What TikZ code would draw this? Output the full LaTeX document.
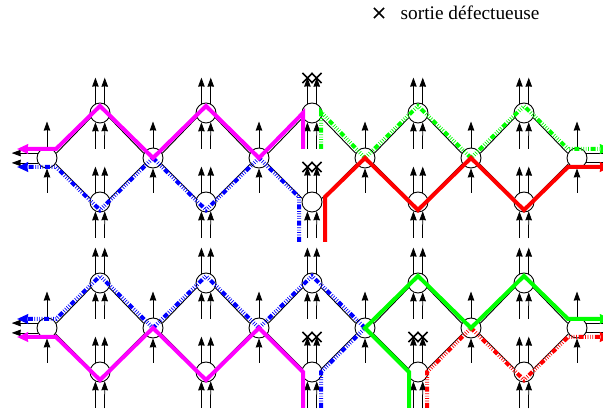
\documentclass[tikz,border=0pt]{standalone}
\usepackage{fontspec}
\setmainfont{Liberation Serif}
\usetikzlibrary{arrows.meta,shapes.misc}
\tikzset{
  x=1pt,y=-1pt,
  sw/.style={circle,draw=black,line width=0.9pt,fill=white,minimum size=20pt,inner sep=0pt},
  lien/.style={draw=black,line width=0.9pt},
  arr/.style={line width=0.75pt,-{Stealth[length=9pt,width=6.5pt,inset=0.4pt]}},
  croix/.style={cross out,draw=black,line width=1.7pt,minimum size=8.5pt,inner sep=0pt},
  plein/.style={line width=4pt,line join=miter,-{Stealth[length=11pt,width=9.5pt,inset=0.6pt]}},
  pointille/.style={plein,line width=4pt,dash pattern=on 5pt off 1.7pt on .7pt off 1.7pt on .7pt off 1.7pt on .7pt off 1.7pt on .7pt off 1.7pt}
}
\definecolor{mag}{RGB}{255,0,255}
\definecolor{bleu}{RGB}{0,0,255}
\definecolor{vert}{RGB}{0,255,0}
\definecolor{rouge}{RGB}{255,0,0}
\begin{document}
\begin{tikzpicture}
\path[use as bounding box] (0,0) rectangle (603,411);
\clip (0,0) rectangle (603,411);

% commutateurs
\foreach \b/\dy in {1/0,2/170}{
  \foreach \i/\x in {1/100,2/206,3/312,4/418,5/524}{
    \node[sw] (up\b-\i) at (\x,113+\dy) {};
    \node[sw] (low\b-\i) at (\x,202+\dy) {};
  }
  \foreach \i/\x in {0/47,1/153,2/259,3/365,4/471,5/577}{
    \node[sw] (mid\b-\i) at (\x,158+\dy) {};
  }
}

% liens et fleches
\foreach \b in {1,2}{
  \foreach \i/\l/\r in {1/0/1,2/1/2,3/2/3,4/3/4,5/4/5}{
    \draw[lien] (mid\b-\l.27) -- (up\b-\i.207);
    \draw[lien] (up\b-\i.-27) -- (mid\b-\r.153);
    \draw[lien] (mid\b-\l.-34) -- (low\b-\i.160);
    \draw[lien] (low\b-\i.20) -- (mid\b-\r.-146);
  }
  \foreach \i in {1,...,5}{
    \foreach \n in {up\b-\i,low\b-\i}{
      \draw[arr] (\n.116.7) -- ++(0,-26);
      \draw[arr] (\n.63.3) -- ++(0,-26);
      \coordinate (ea) at ([shift={(-4.5,36)}]\n.center);
      \coordinate (eb) at ([shift={(4.5,36)}]\n.center);
      \draw[arr] (ea) -- (\n.-116.7);
      \draw[arr] (eb) -- (\n.-63.3);
    }
  }
  \foreach \i in {0,...,5}{
    \draw[arr] (mid\b-\i.90) -- ++(0,-26);
    \coordinate (ec) at ([shift={(0,35)}]mid\b-\i.center);
    \draw[arr] (ec) -- (mid\b-\i.-90);
  }
  \draw[arr] (mid\b-0.152) -- ++(-26,0);
  \draw[arr] (mid\b-0.-152) -- ++(-26,0);
  \draw[line width=0.9pt] (mid\b-5.28) -- ++(20,0);
  \draw[line width=0.9pt] (mid\b-5.-28) -- ++(20,0);
}

% sorties defectueuses
\foreach \n in {up1-3,low1-3,low2-3,low2-4}{
  \node[croix] at ([shift={(-4.5,-35)}]\n.center) {};
  \node[croix] at ([shift={(4.5,-35)}]\n.center) {};
}

% extremites libres
\coordinate (magA) at (17,149);
\coordinate (bleuA) at (17,167);
\coordinate (bleuB) at (299,242);
\coordinate (rougeB) at (325,242);
\coordinate (vertA) at (611,149);
\coordinate (rougeA) at (611,167);
\coordinate (bleuC) at (17,319);
\coordinate (magC) at (17,337);
\coordinate (magD) at (303,408);
\coordinate (bleuD) at (321,408);
\coordinate (vertD) at (409,408);
\coordinate (rougeD) at (427,408);
\coordinate (vertC) at (611,319);
\coordinate (rougeC) at (611,337);

% chemins en pointilles
\draw[pointille,bleu] (bleuB) -- ([shift={(-13,-5)}]low1-3.center) -- (mid1-2.center) -- ([yshift=-8pt]low1-2.center) -- (mid1-1.center) -- ([yshift=-8pt]low1-1.center) -- ([shift={(9,9)}]mid1-0.center) -- (bleuA);
\draw[pointille,vert] ([shift={(9,36)}]up1-3.center) -- ([shift={(9,-1)}]up1-3.center) -- (mid1-3.center) -- ([yshift=7pt]up1-4.center) -- (mid1-4.center) -- ([yshift=7pt]up1-5.center) -- ([shift={(-9,-9)}]mid1-5.center) -- (vertA);
\draw[pointille,bleu] (bleuD) -- ([xshift=9pt]low2-3.center) -- (mid2-3.center) -- ([yshift=7pt]up2-3.center) -- (mid2-2.center) -- ([yshift=7pt]up2-2.center) -- (mid2-1.center) -- ([yshift=7pt]up2-1.center) -- ([shift={(9,-9)}]mid2-0.center) -- (bleuC);
\draw[pointille,rouge] (rougeD) -- ([xshift=9pt]low2-4.center) -- (mid2-4.center) -- ([yshift=-8pt]low2-5.center) -- ([shift={(-9,9)}]mid2-5.center) -- (rougeC);

% chemins pleins
\draw[plein,mag] ([shift={(-9,36)}]up1-3.center) -- ([xshift=-9pt]up1-3.center) -- (mid1-2.center) -- ([yshift=7pt]up1-2.center) -- (mid1-1.center) -- ([yshift=7pt]up1-1.center) -- ([shift={(9,-9)}]mid1-0.center) -- (magA);
\draw[plein,rouge] (rougeB) -- ([shift={(13,-5)}]low1-3.center) -- (mid1-3.center) -- ([yshift=-8pt]low1-4.center) -- (mid1-4.center) -- ([yshift=-8pt]low1-5.center) -- ([shift={(-9,9)}]mid1-5.center) -- (rougeA);
\draw[plein,mag] (magD) -- ([xshift=-9pt]low2-3.center) -- (mid2-2.center) -- ([yshift=-8pt]low2-2.center) -- (mid2-1.center) -- ([yshift=-8pt]low2-1.center) -- ([shift={(9,9)}]mid2-0.center) -- (magC);
\draw[plein,vert] (vertD) -- ([xshift=-9pt]low2-4.center) -- (mid2-3.center) -- ([yshift=7pt]up2-4.center) -- (mid2-4.center) -- ([yshift=7pt]up2-5.center) -- ([shift={(-9,-9)}]mid2-5.center) -- (vertC);

% legende
\node[croix] (legende) at (379,13) {};
\node[anchor=base west,inner sep=0pt,font=\fontsize{19.3pt}{20pt}\selectfont] (texte) at (400.5,20) {sortie défectueuse};
\end{tikzpicture}
\end{document}
